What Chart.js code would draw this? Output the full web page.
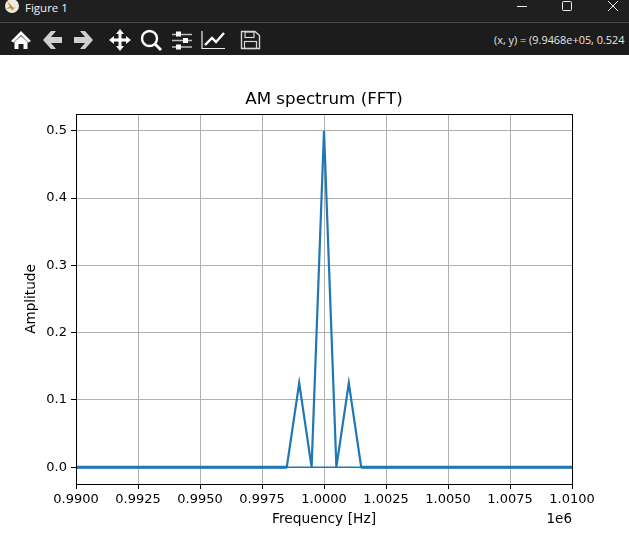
<!DOCTYPE html>
<html>
<head>
<meta charset="utf-8">
<title>AM spectrum (FFT)</title>
<script src="https://cdn.jsdelivr.net/npm/chart.js@4"></script>
<style>
  html, body { margin: 0; padding: 0; background: #fff; overflow: hidden; }
  #win { position: relative; width: 629px; height: 533px; overflow: hidden; }
  #titlebar { position: absolute; left: 0; top: 0; width: 629px; height: 22px; background: #1f1f1f; }
  #sep { position: absolute; left: 0; top: 22px; width: 629px; height: 1px; background: #4a4a4a; }
  #toolbar { position: absolute; left: 0; top: 23px; width: 629px; height: 32px; background: #1c1c1c; }
  #figname { position: absolute; left: 25px; top: 0; font: 11.5px/15px "Open Sans", sans-serif; color: #f2f2f2; }
  #coords { position: absolute; left: 494px; top: 33px; font: 10.9px/14px "Open Sans", sans-serif; color: #e6e6e6; white-space: nowrap; }
  svg.chrome { position: absolute; left: 0; top: 0; }
  #plot { position: absolute; left: 0; top: 55px; width: 629px; height: 478px; }
</style>
</head>
<body>
<div id="win">
  <div id="titlebar"></div>
  <div id="sep"></div>
  <div id="toolbar"></div>
  <svg class="chrome" width="629" height="55" viewBox="0 0 629 55">
    <!-- window logo -->
    <circle cx="12" cy="6" r="7" fill="#efe9df"/>
    <path d="M7 1 L14 8 L17 5 L12 11 Z" fill="#e8863a"/>
    <path d="M6 9 L11 6 L12 8 Z" fill="#6aa84f"/>
    <!-- window buttons -->
    <path d="M517 6.5 H527" stroke="#eee" stroke-width="1"/>
    <rect x="562.5" y="1.5" width="9" height="9" rx="1" fill="none" stroke="#eee"/>
    <path d="M608 1 L618 11 M618 1 L608 11" stroke="#eee" stroke-width="1"/>
    <!-- home -->
    <path d="M11 41 L21 31 L31 41 L28.5 42.5 L21 35 L13.5 42.5 Z" fill="#fff"/>
    <path d="M14.5 42 L21 36 L27.5 42 V49 H23.5 V44 H18.5 V49 H14.5 Z" fill="#fff"/>
    <!-- back / forward -->
    <path d="M43 40 L51 31 H56 L51 37 H62 V43 H51 L56 49 H51 Z" fill="#cfcfcf"/>
    <path d="M93 40 L85 31 H80 L85 37 H74 V43 H85 L80 49 H85 Z" fill="#cfcfcf"/>
    <!-- pan -->
    <path d="M120 29 L124 34 H121.5 V38.5 H126 V36 L131 40 L126 44 V41.5 H121.5 V46 H124 L120 51 L116 46 H118.5 V41.5 H114 V44 L109 40 L114 36 V38.5 H118.5 V34 H116 Z" fill="#fff"/>
    <!-- zoom -->
    <circle cx="149.5" cy="38.5" r="7.5" fill="none" stroke="#fff" stroke-width="2.4"/>
    <path d="M155 44 L161 50" stroke="#fff" stroke-width="2.8"/>
    <!-- sliders -->
    <path d="M172 34.5 H192 M172 40.5 H192 M172 47 H192" stroke="#bdbdbd" stroke-width="1.6"/>
    <rect x="176" y="31.5" width="5" height="5" fill="#fff"/>
    <rect x="183" y="38" width="5" height="5" fill="#fff"/>
    <rect x="176" y="44.5" width="5" height="5" fill="#fff"/>
    <!-- axes edit -->
    <path d="M202 31 V48.5 H225" fill="none" stroke="#eee" stroke-width="1.2"/>
    <path d="M205 45 L212 38 L216 42 L224 33" fill="none" stroke="#fff" stroke-width="2.4"/>
    <!-- save -->
    <path d="M241.5 31.5 H255 L259.5 35.5 V48.5 H241.5 Z" fill="none" stroke="#d8d8d8" stroke-width="1.4"/>
    <rect x="245" y="32" width="9" height="5.5" fill="none" stroke="#d8d8d8" stroke-width="1.2"/>
    <rect x="244.5" y="41.5" width="12" height="7" fill="none" stroke="#d8d8d8" stroke-width="1.2"/>
  </svg>
  <div id="figname">Figure 1</div>
  <div id="coords">(x, y) = (9.9468e+05, 0.524</div>
  <div id="plot"><canvas id="chart" width="629" height="478"></canvas></div>
</div>
<script>
// values
const freqs = [990000, 998500, 999000, 999500, 1000000, 1000500, 1001000, 1001500, 1010000];
const amps = [0, 0, 0.125, 0, 0.5, 0, 0.125, 0, 0];
const floorFreqs = [990000, 998500, null, 1001500, 1010000];
const floorAmps = [0, 0, null, 0, 0];
const wrapFreqs = [998500, 1001500];
const wrapAmps = [0, 0];
const xTicks = [990000, 992500, 995000, 997500, 1000000, 1002500, 1005000, 1007500, 1010000];
const xTickLabels = ['0.9900', '0.9925', '0.9950', '0.9975', '1.0000', '1.0025', '1.0050', '1.0075', '1.0100'];
const yTicks = [0, 0.1, 0.2, 0.3, 0.4, 0.5];
const yTickLabels = ['0.0', '0.1', '0.2', '0.3', '0.4', '0.5'];

const FONT = '"DejaVu Sans"';
const BLUE = '#1f77b4';

const toPoints = (xs, ys) => xs.map((x, i) => (x === null ? { x: NaN, y: NaN } : { x: x, y: ys[i] }));

// black frame and the 1e6 offset text
const framePlugin = {
    id: 'frame',
    afterDraw(chart) {
        const { ctx, chartArea: a } = chart;
        ctx.save();
        ctx.strokeStyle = '#000';
        ctx.lineWidth = 1;
        ctx.strokeRect(Math.round(a.left) + 0.5, Math.round(a.top) + 0.5,
            Math.round(a.right - a.left), Math.round(a.bottom - a.top));
        ctx.fillStyle = '#000';
        ctx.font = '13.5px ' + FONT;
        ctx.textAlign = 'right';
        ctx.textBaseline = 'middle';
        ctx.fillText('1e6', a.right, a.bottom + 35);
        ctx.restore();
    }
};

new Chart(document.getElementById('chart'), {
    type: 'scatter',
    data: {
        datasets: [
            { label: 'spectrum', data: toPoints(freqs, amps), showLine: true, borderColor: BLUE, borderWidth: 2.2, pointRadius: 0, tension: 0 },
            { label: 'floor', data: toPoints(floorFreqs, floorAmps), showLine: true, spanGaps: false, borderColor: BLUE, borderWidth: 3, pointRadius: 0 },
            { label: 'wrap', data: toPoints(wrapFreqs, wrapAmps), showLine: true, borderColor: BLUE, borderWidth: 1.4, pointRadius: 0 }
        ]
    },
    options: {
        responsive: false,
        animation: false,
        devicePixelRatio: 1,
        layout: { padding: { left: 0, right: 57, top: 0, bottom: 5 } },
        plugins: {
            legend: { display: false },
            tooltip: { enabled: false },
            title: {
                display: true,
                fullSize: false,
                text: 'AM spectrum (FFT)',
                color: '#000',
                font: { family: FONT, size: 16.7, weight: 'normal' },
                padding: { top: 35, bottom: 4 }
            }
        },
        scales: {
            x: {
                type: 'linear',
                min: 990000,
                max: 1010000,
                afterBuildTicks: (scale) => { scale.ticks = xTicks.map(v => ({ value: v })); },
                afterFit: (scale) => { scale.height = 44; },
                grid: { color: '#b0b0b0', lineWidth: 1, tickColor: '#000', tickLength: 5 },
                border: { color: '#000' },
                ticks: {
                    color: '#000',
                    font: { family: FONT, size: 13 },
                    padding: 3,
                    maxRotation: 0,
                    autoSkip: false,
                    callback: (value) => xTickLabels[xTicks.indexOf(value)]
                },
                title: {
                    display: true,
                    text: 'Frequency [Hz]',
                    color: '#000',
                    font: { family: FONT, size: 13.8 },
                    padding: { top: 0, bottom: 0 }
                }
            },
            y: {
                type: 'linear',
                min: -0.025,
                max: 0.525,
                afterBuildTicks: (scale) => { scale.ticks = yTicks.map(v => ({ value: v })); },
                afterFit: (scale) => { scale.width = 76; },
                grid: { color: '#b0b0b0', lineWidth: 1, tickColor: '#000', tickLength: 5 },
                border: { color: '#000' },
                ticks: {
                    color: '#000',
                    font: { family: FONT, size: 13 },
                    padding: 4,
                    callback: (value) => yTickLabels[yTicks.indexOf(value)]
                },
                title: {
                    display: true,
                    text: 'Amplitude',
                    color: '#000',
                    font: { family: FONT, size: 13.6 },
                    padding: { top: 23, bottom: 0 }
                }
            }
        }
    },
    plugins: [framePlugin]
});
</script>
</body>
</html>
